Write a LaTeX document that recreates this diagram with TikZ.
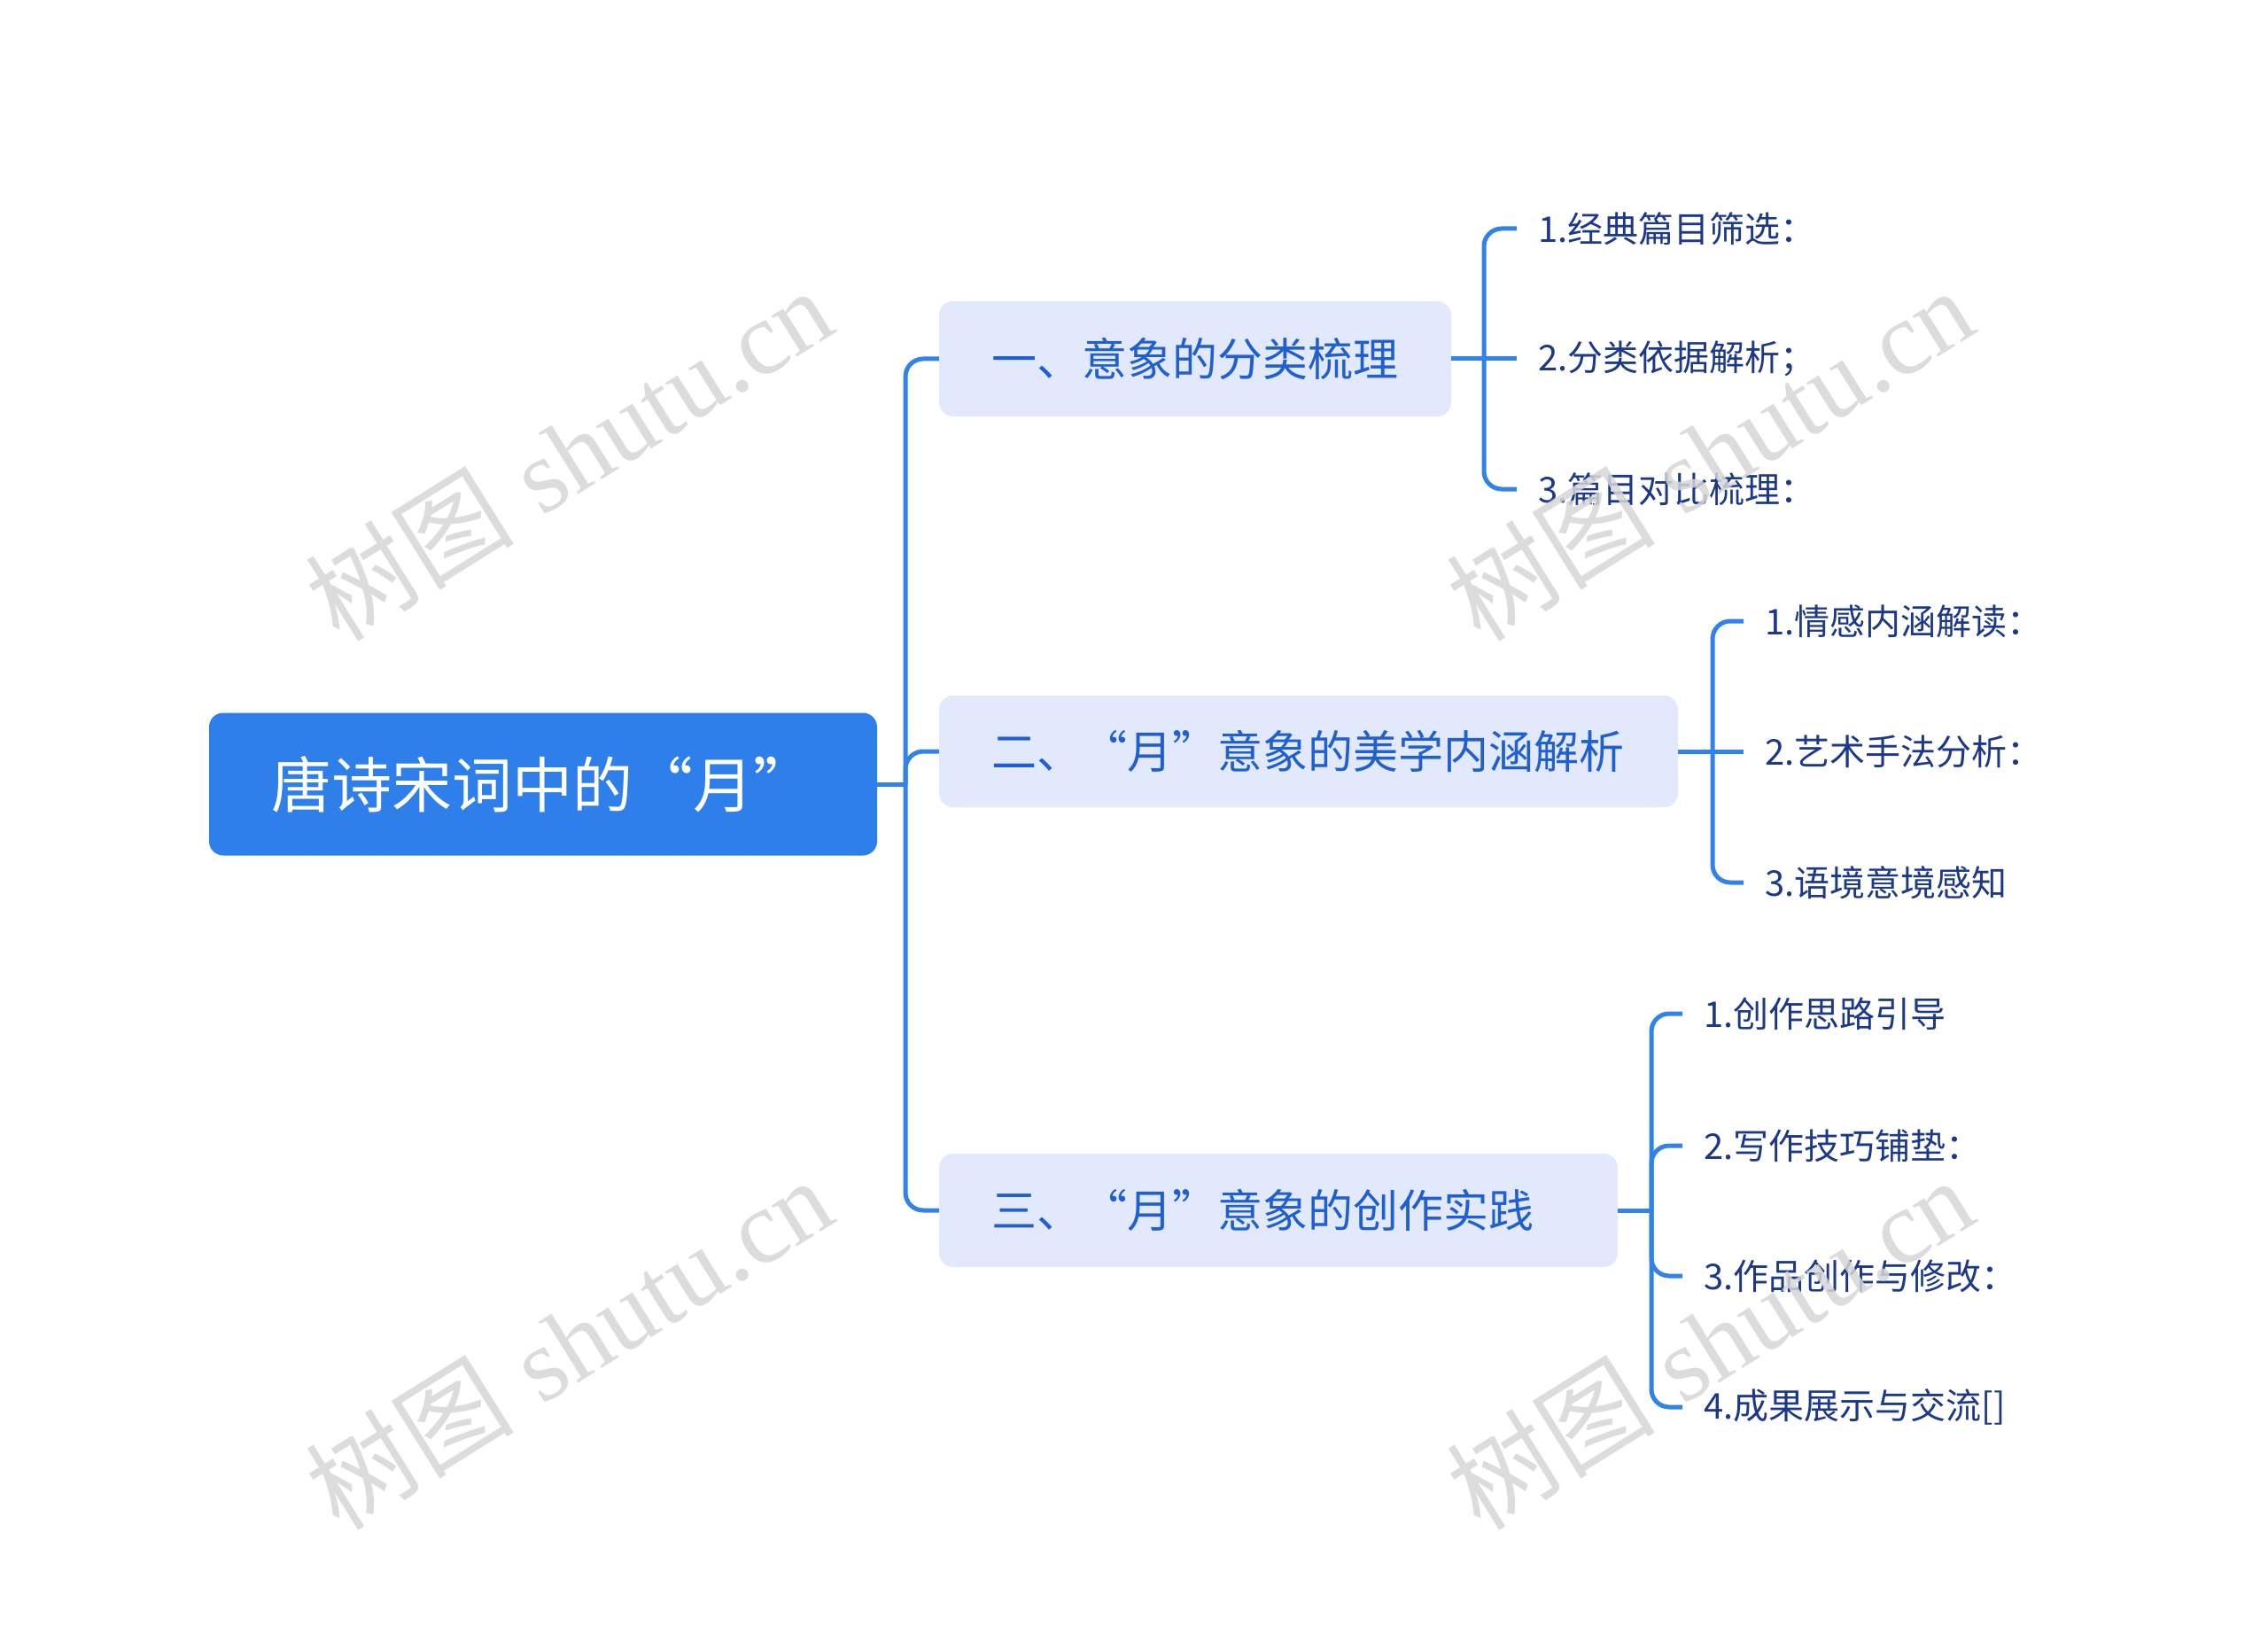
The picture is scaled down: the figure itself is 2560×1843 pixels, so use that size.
\documentclass[tikz,border=0pt]{standalone}
\usepackage{fontspec}
\setmainfont{Liberation Sans}
\newfontfamily\cjk{Noto Sans CJK SC}
\newfontfamily\wmserif{Liberation Serif}
\definecolor{rootblue}{HTML}{2F7FEA}
\definecolor{linkblue}{HTML}{3183EA}
\definecolor{boxfill}{HTML}{E3E9FC}
\definecolor{boxtext}{HTML}{1F5FCF}
\definecolor{leaftext}{HTML}{1B3889}
\definecolor{wmgray}{HTML}{D6D6D6}
\tikzset{
  rootbox/.style={fill=rootblue, rounded corners=16pt, text=white, inner ysep=0pt,
    inner xsep=70pt, align=left, font=\cjk\fontsize{68}{82}\selectfont},
  branchbox/.style={fill=boxfill, rounded corners=16pt, text=boxtext, inner ysep=0pt,
    inner xsep=59pt, align=left, font=\cjk\fontsize{51}{61}\selectfont},
  leafnode/.style={anchor=west, inner xsep=24pt, inner ysep=0pt, text=leaftext,
    font=\cjk\fontsize{40}{48}\selectfont},
  conn/.style={draw=linkblue, line width=5pt, rounded corners=20pt},
  wmark/.style={text=wmgray, rotate=32, inner sep=0pt, opacity=0.85,
    font=\fontsize{118}{130}\selectfont}
}
\begin{document}
\begin{tikzpicture}[x=1pt,y=-1pt]
\useasboundingbox[fill=white] (0,0) rectangle (2560,1843);

% root and branches
\node[rootbox, text width=614pt, minimum height=161pt] (root) at (613,885) {唐诗宋词中的“月”};
\node[branchbox, text width=460pt, minimum height=130pt] (b1) at (1349,405) {一、意象的分类梳理};
\node[branchbox, text width=716pt, minimum height=126pt] (b2) at (1477,848) {二、“月”意象的美学内涵解析};
\node[branchbox, text width=648pt, minimum height=128pt] (b3) at (1443,1366) {三、“月”意象的创作实践};

% leaves
\node[leafnode] (l11) at (1712,258) {1.经典篇目筛选：};
\node[leafnode] (l12) at (1712,405) {2.分类依据解析；};
\node[leafnode] (l13) at (1712,552) {3.篇目对比梳理：};

\node[leafnode] (l21) at (1968,701) {1.情感内涵解读：};
\node[leafnode] (l22) at (1968,848) {2.艺术手法分析：};
\node[leafnode] (l23) at (1968,996) {3.语境意境感知};

\node[leafnode] (l31) at (1899,1144) {1.创作思路引导};
\node[leafnode] (l32) at (1899,1293) {2.写作技巧铺垫：};
\node[leafnode] (l33) at (1899,1440) {3.作品创作与修改：};
\node[leafnode] (l34) at (1899,1588) {4.成果展示与交流[]};

% junction coordinates
\coordinate (t) at (1022,885);
\coordinate (c1) at (1675,405);
\coordinate (c2) at (1933,848);
\coordinate (c3) at (1864,1366);

% trunk
\draw[conn] (root.east) -- (t);
\draw[conn] (b1.west) -| (t) |- (b3.west);
\draw[conn] (t) |- (b2.west);

% group 1
\draw[conn] (b1.east) -- (c1);
\draw[conn] (l11.west) -| (c1) |- (l13.west);
\draw[conn] (c1) -- (l12.west);

% group 2
\draw[conn] (b2.east) -- (c2);
\draw[conn] (l21.west) -| (c2) |- (l23.west);
\draw[conn] (c2) -- (l22.west);

% group 3
\draw[conn] (b3.east) -- (c3);
\draw[conn] (l31.west) -| (c3) |- (l34.west);
\draw[conn] (c3) |- (l32.west);
\draw[conn] (c3) |- (l33.west);

% watermarks
\node[wmark] (w1) at (642,512) {{\cjk 树图} {\wmserif shutu.cn}};
\node[wmark] (w2) at (1930,512) {{\cjk 树图} {\wmserif shutu.cn}};
\node[wmark] (w3) at (642,1515) {{\cjk 树图} {\wmserif shutu.cn}};
\node[wmark] (w4) at (1930,1515) {{\cjk 树图} {\wmserif shutu.cn}};
\end{tikzpicture}
\end{document}
